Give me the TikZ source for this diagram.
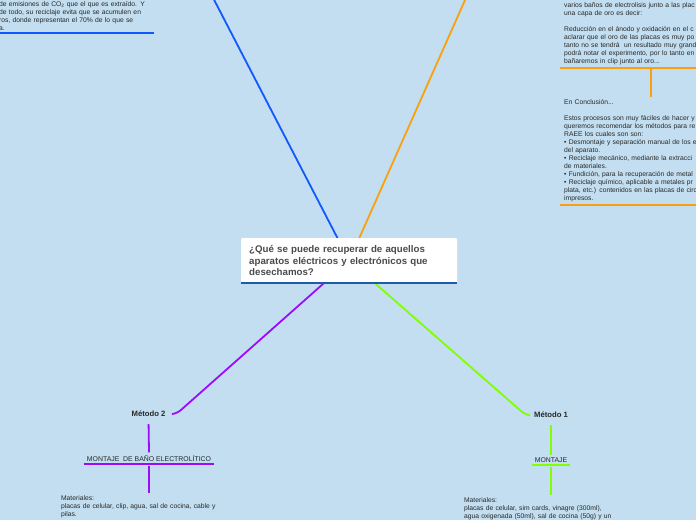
\documentclass[tikz,border=0pt]{standalone}
\usepackage{fontspec}
\setmainfont{Liberation Sans}
\usetikzlibrary{backgrounds,calc}
\definecolor{pagebg}{RGB}{194,222,240}
\definecolor{rootline}{RGB}{30,92,170}
\definecolor{inkgray}{RGB}{40,40,40}
\definecolor{roottext}{RGB}{74,74,74}
\definecolor{branchblue}{RGB}{18,88,255}
\definecolor{branchorange}{RGB}{250,160,12}
\definecolor{branchviolet}{RGB}{155,12,255}
\definecolor{branchlime}{RGB}{128,255,0}
\tikzset{
  branch/.style={line width=1.8pt,line cap=round,rounded corners=5pt},
  stem/.style={line width=1.8pt},
  topic/.style={fill=white,rounded corners=1pt,text width=200pt,minimum width=216pt,
                minimum height=45pt,inner xsep=8pt,align=left,text=roottext,
                font=\fontsize{9.7}{11.6}\selectfont\bfseries},
  method/.style={font=\fontsize{7.7}{9}\selectfont\bfseries,text=inkgray,inner sep=2pt},
  heading/.style={font=\fontsize{6.9}{8}\selectfont,text=inkgray,inner xsep=3pt,inner ysep=2.5pt},
  body/.style={font=\fontsize{6.75}{8}\selectfont,text=inkgray,align=left,inner xsep=0pt,inner ysep=2pt},
}

\begin{document}
\begin{tikzpicture}[x=1pt,y=-1pt]
  \path[use as bounding box] (0,0) rectangle (696,520);

  \node[topic,anchor=north west] (root) at (241,238)
    {¿Qué se puede recuperar de aquellos\\ aparatos eléctricos y electrónicos que\\ desechamos?};
  \draw[rootline,line width=2pt] (root.south west) -- (root.south east);

  \node[body,anchor=south west,text width=155pt,inner ysep=2.5pt] (recnote) at (-1,33)
    {de emisiones de CO\textsubscript{2} que el que es extraído. Y\\
     de todo, su reciclaje evita que se acumulen en\\
     ros, donde representan el 70\% de lo que se\\
     a.};
  \draw[stem,branchblue] (recnote.south west) -- (recnote.south east);

  \node[body,anchor=south west,text width=174pt,inner xsep=4pt,inner ysep=2.5pt] (electro) at (560,68)
    {varios baños de electrolisis junto a las plac\\
     una capa de oro es decir:\\[8pt]
     Reducción en el ánodo y oxidación en el c\\
     aclarar que el oro de las placas es muy po\\
     tanto no se tendrá\ \ un resultado muy grand\\
     podrá notar el experimento, por lo tanto en\\
     bañaremos in clip junto al oro...};
  \draw[stem,branchorange] (electro.south west) -- (electro.south east);

  \node[body,anchor=north west,text width=174pt,inner xsep=4pt,inner ysep=2.5pt] (concl) at (560,97)
    {En Conclusión...\\[8pt]
     Estos procesos son muy fáciles de hacer y\\
     queremos recomendar los métodos para re\\
     RAEE los cuales son son:\\
     • Desmontaje y separación manual de los e\\
     del aparato.\\
     • Reciclaje mecánico, mediante la extracci\\
     de materiales.\\
     • Fundición, para la recuperación de metal\\
     • Reciclaje químico, aplicable a metales pr\\
     plata, etc.) contenidos en las placas de circ\\
     impresos.};
  \draw[stem,branchorange] (concl.south west) -- (concl.south east);
  \draw[stem,branchorange,shorten <=1pt] (electro.south) -- (concl.north);

  \node[method] (m2) at (148.5,414) {Método 2};
  \node[method] (m1) at (551,415) {Método 1};

  \node[heading,anchor=south] (mont2) at (149,464) {MONTAJE\ \ DE BAÑO ELECTROLÍTICO};
  \draw[stem,branchviolet] (mont2.south west) -- (mont2.south east);
  \node[heading,anchor=south] (mont1) at (551,465) {MONTAJE};
  \draw[stem,branchlime] (mont1.south west) -- (mont1.south east);

  \node[body,anchor=north,text width=176pt] (mat2) at (149,493)
    {Materiales:\\
     placas de celular, clip, agua, sal de cocina, cable y\\
     pilas.};
  \node[body,anchor=north,text width=174pt] (mat1) at (551,495)
    {Materiales:\\
     placas de celular, sim cards, vinagre (300ml),\\
     agua oxigenada (50ml), sal de cocina (50g) y un};

  \draw[stem,branchviolet,shorten <=5pt] (m2.south) -- (mont2.north);
  \draw[stem,branchviolet,shorten <=2pt] (mont2.south) -- (mat2.north);
  \draw[stem,branchlime,shorten <=5pt] (m1.south) -- (mont1.north);
  \draw[stem,branchlime,shorten <=2pt] (mont1.south) -- (mat1.north);

  \coordinate (blueup) at (209,-10);
  \coordinate (orangeup) at (469.5,-10);
  \begin{scope}[on background layer]
    \fill[pagebg] (0,0) rectangle (696,520);
    \draw[branch,branchblue] (root.center) -- (blueup);
    \draw[branch,branchorange] (root.center) -- (orangeup);
    \draw[branch,branchviolet] (root.center) -- (177,413.5) -- ([xshift=5pt]m2.east);
    \draw[branch,branchlime] (root.center) -- (525,414.5) -- ([xshift=-4pt]m1.west);
  \end{scope}
\end{tikzpicture}
\end{document}
